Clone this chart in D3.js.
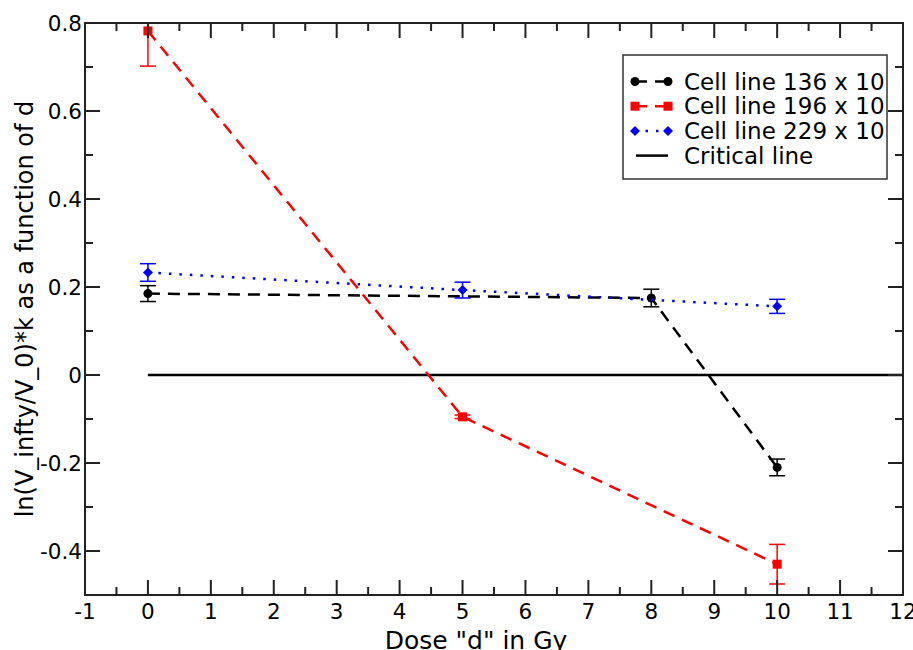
<!DOCTYPE html>
<html><head><meta charset="utf-8">
<script src="https://cdn.jsdelivr.net/npm/d3@7"></script>
<style>body{margin:0;background:#fff;} text{font-family:"DejaVu Sans",sans-serif;}</style>
</head><body>
<svg id="c" width="913" height="650"></svg>
<script>
const doses136 = [0, 8, 10];
const vals136 = [0.185, 0.175, -0.210];
const err136 = [0.018, 0.020, 0.019];
const doses196 = [0, 5, 10];
const vals196 = [0.782, -0.095, -0.430];
const err196 = [0.080, 0.004, 0.045];
const doses229 = [0, 5, 10];
const vals229 = [0.233, 0.193, 0.156];
const err229 = [0.020, 0.018, 0.016];
const criticalX = [0, 12];
const criticalY = [0, 0];
const xTicks = [-1,0,1,2,3,4,5,6,7,8,9,10,11,12];
const yTicks = [-0.4,-0.2,0,0.2,0.4,0.6,0.8];
const yTickLabels = ["-0.4","-0.2","0","0.2","0.4","0.6","0.8"];
const legendLabels = ["Cell line 136 x 10","Cell line 196 x 10","Cell line 229 x 10","Critical line"];

const svg = d3.select("#c");
const L=85, R=903, T=23, B=595;
const x = d3.scaleLinear().domain([-1,12]).range([L,R]);
const y = d3.scaleLinear().domain([-0.5,0.8]).range([B,T]);

svg.append("defs").append("clipPath").attr("id","clip").append("rect")
  .attr("x",L).attr("y",T).attr("width",R-L).attr("height",B-T);

const g = svg.append("g").attr("clip-path","url(#clip)");
const series = [
  {d:doses136,v:vals136,e:err136,color:"#000",dash:"12,8",marker:"circle"},
  {d:doses196,v:vals196,e:err196,color:"#ff0000",dash:"12,8",marker:"square"},
  {d:doses229,v:vals229,e:err229,color:"#0000ff",dash:"2.5,8",marker:"diamond"}
];
g.append("path").datum(criticalX.map((d,i)=>[d,criticalY[i]]))
  .attr("d",d3.line().x(d=>x(d[0])).y(d=>y(d[1])))
  .attr("stroke","#000").attr("stroke-width",2.5).attr("fill","none");

function marker(sel, type, color, cx, cy){
  if(type==="circle") sel.append("circle").attr("cx",cx).attr("cy",cy).attr("r",4.5).attr("fill",color);
  else if(type==="square") sel.append("rect").attr("x",cx-4.5).attr("y",cy-4.5).attr("width",9).attr("height",9).attr("fill",color);
  else sel.append("path").attr("d",`M${cx},${cy-5}L${cx+5},${cy}L${cx},${cy+5}L${cx-5},${cy}Z`).attr("fill",color);
}

series.forEach(s=>{
  const pts = s.d.map((d,i)=>[d,s.v[i],s.e[i]]);
  g.append("path").datum(pts).attr("d",d3.line().x(d=>x(d[0])).y(d=>y(d[1])))
    .attr("stroke",s.color).attr("stroke-width",2.5).attr("fill","none").attr("stroke-dasharray",s.dash);
  pts.forEach(p=>{
    const cx=x(p[0]), y1=y(p[1]+p[2]), y2=y(p[1]-p[2]);
    g.append("line").attr("x1",cx).attr("x2",cx).attr("y1",y1).attr("y2",y2).attr("stroke",s.color).attr("stroke-width",1.5);
    [y1,y2].forEach(yy=>g.append("line").attr("x1",cx-8).attr("x2",cx+8).attr("y1",yy).attr("y2",yy).attr("stroke",s.color).attr("stroke-width",1.5));
    marker(g, s.marker, s.color, cx, y(p[1]));
  });
});

const ax = svg.append("g").attr("stroke","#222").attr("stroke-width",2);
ax.append("rect").attr("x",L).attr("y",T).attr("width",R-L).attr("height",B-T).attr("fill","none");
const xMinor = d3.range(-0.5,12,1);
xTicks.forEach(t=>{
  ax.append("line").attr("x1",x(t)).attr("x2",x(t)).attr("y1",B).attr("y2",B-15);
  ax.append("line").attr("x1",x(t)).attr("x2",x(t)).attr("y1",T).attr("y2",T+15);
});
xMinor.forEach(t=>{
  ax.append("line").attr("x1",x(t)).attr("x2",x(t)).attr("y1",B).attr("y2",B-8);
  ax.append("line").attr("x1",x(t)).attr("x2",x(t)).attr("y1",T).attr("y2",T+8);
});
const yMinor = d3.range(-0.5,0.8,0.2).map(v=>+v.toFixed(2));
yTicks.forEach(t=>{
  ax.append("line").attr("y1",y(t)).attr("y2",y(t)).attr("x1",L).attr("x2",L+15);
  ax.append("line").attr("y1",y(t)).attr("y2",y(t)).attr("x1",R).attr("x2",R-15);
});
yMinor.forEach(t=>{
  ax.append("line").attr("y1",y(t)).attr("y2",y(t)).attr("x1",L).attr("x2",L+8);
  ax.append("line").attr("y1",y(t)).attr("y2",y(t)).attr("x1",R).attr("x2",R-8);
});
svg.append("g").selectAll("text").data(xTicks).join("text")
  .attr("x",d=>x(d)).attr("y",B+24).attr("text-anchor","middle").attr("font-size",21.5)
  .text(d=>String(d));
svg.append("g").selectAll("text").data(yTicks).join("text")
  .attr("x",L-3).attr("y",d=>y(d)+8).attr("text-anchor","end").attr("font-size",21.5)
  .text((d,i)=>yTickLabels[i]);

svg.append("text").attr("x",476).attr("y",649).attr("text-anchor","middle").attr("font-size",25)
  .text('Dose "d" in Gy');
svg.append("text").attr("transform",`translate(33,${(T+B)/2}) rotate(-90)`).attr("text-anchor","middle").attr("font-size",24)
  .text("ln(V_infty/V_0)*k as a function of d");

const lg = svg.append("g");
lg.append("rect").attr("x",623).attr("y",55).attr("width",264).attr("height",124).attr("fill","#fff").attr("stroke","#333").attr("stroke-width",1.5);
const legStyles = [
  {color:"#000",dash:"12,8",marker:"circle"},
  {color:"#ff0000",dash:"12,8",marker:"square"},
  {color:"#0000ff",dash:"2.5,8",marker:"diamond"},
  {color:"#000",dash:null,marker:null}
];
legendLabels.forEach((lab,i)=>{
  const cy = 81.5 + i*24.7;
  const st = legStyles[i];
  const l = lg.append("line").attr("x1",st.marker?635:636).attr("x2",668).attr("y1",cy).attr("y2",cy)
    .attr("stroke",st.color).attr("stroke-width",2.5);
  if(st.dash) l.attr("stroke-dasharray",st.dash);
  if(st.marker){ marker(lg, st.marker, st.color, 635, cy); marker(lg, st.marker, st.color, 668, cy); }
  lg.append("text").attr("x",684).attr("y",cy+8).attr("font-size",23).text(lab);
});
</script>
</body></html>
